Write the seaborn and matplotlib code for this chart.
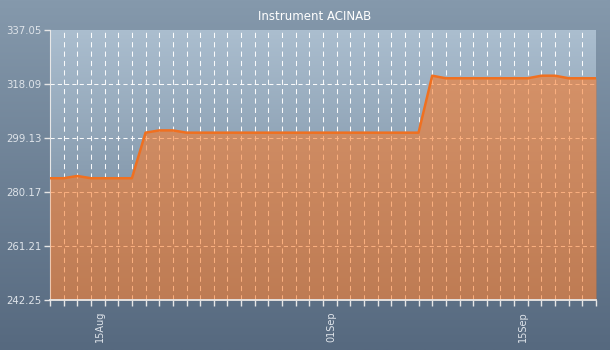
import numpy as np
import pandas as pd
import matplotlib
matplotlib.use("Agg")
import matplotlib.pyplot as plt
import matplotlib.dates as mdates
from matplotlib.ticker import FixedLocator, FormatStrFormatter
from matplotlib.colors import LinearSegmentedColormap
import seaborn as sns

title = "Instrument ACINAB"
start_date = "2014-08-11"
values = [285.0, 285.0, 285.8, 285.0, 285.0, 285.0, 285.0,
          301.0, 301.8, 301.8, 301.0, 301.0, 301.0, 301.0, 301.0,
          301.0, 301.0, 301.0, 301.0, 301.0, 301.0, 301.0, 301.0,
          301.0, 301.0, 301.0, 301.0, 301.0,
          321.0, 320.1, 320.1, 320.1, 320.1, 320.1, 320.1, 320.1,
          321.0, 321.0, 320.1, 320.1, 320.1]
yticks = [242.25, 261.21, 280.17, 299.13, 318.09, 337.05]
major_dates = ["2014-08-15", "2014-09-01", "2014-09-15"]

dates = pd.date_range(start_date, periods=len(values), freq="D")
df = pd.DataFrame({"date": dates, "value": values})

sns.set_style("white")
plt.rcParams["font.family"] = ["DejaVu Sans"]

fig = plt.figure(figsize=(6.1, 3.5), dpi=100)

# figure background gradient
bg = fig.add_axes([0, 0, 1, 1], zorder=-10)
bg_cmap = LinearSegmentedColormap.from_list("bg", ["#8599ac", "#56697f"])
bg.imshow(np.linspace(0, 1, 256).reshape(-1, 1), aspect="auto", cmap=bg_cmap,
          extent=[0, 1, 0, 1], origin="upper")
bg.axis("off")

ax = fig.add_axes([50 / 610, 1 - 300 / 350, 546 / 610, 270 / 350])
ax.set_facecolor("none")

x0 = mdates.date2num(dates[0])
x1 = mdates.date2num(dates[-1])
ymin, ymax = yticks[0], yticks[-1]

pa_cmap = LinearSegmentedColormap.from_list("pa", ["#abbecf", "#6b8095"])
ax.imshow(np.linspace(0, 1, 256).reshape(-1, 1), aspect="auto", cmap=pa_cmap,
          extent=[x0, x1, ymin, ymax], origin="upper", zorder=0)

# grid
for d in dates[1:-1]:
    ax.axvline(mdates.date2num(d), color="white", lw=0.75, ls=(0, (5, 4)), alpha=0.95, zorder=1)
for y in yticks[1:-1]:
    ax.axhline(y, color="white", lw=0.75, ls=(0, (4, 3)), alpha=0.95, zorder=1)

ax.fill_between(df["date"], df["value"], ymin, color="#fb7925", alpha=0.58, lw=0, zorder=2)
sns.lineplot(data=df, x="date", y="value", ax=ax, color="#f07020", lw=1.8, zorder=3)

ax.set_xlim(x0, x1)
ax.set_ylim(ymin, ymax)
ax.set_xlabel("")
ax.set_ylabel("")

ax.yaxis.set_major_locator(FixedLocator(yticks))
ax.yaxis.set_major_formatter(FormatStrFormatter("%.2f"))
ax.xaxis.set_major_locator(FixedLocator([mdates.date2num(pd.Timestamp(d)) for d in major_dates]))
ax.xaxis.set_major_formatter(mdates.DateFormatter("%d%b"))
ax.xaxis.set_minor_locator(mdates.DayLocator())

ax.tick_params(axis="x", which="both", direction="out", length=4, width=1,
               color="#e6e6e6", labelcolor="#dfe4ea", labelsize=7, pad=4, bottom=True)
ax.tick_params(axis="y", which="both", direction="out", length=4, width=1,
               color="#e6e6e6", labelcolor="#dfe4ea", labelsize=7.3, pad=2, left=True)
for lbl in ax.get_xticklabels():
    lbl.set_rotation(90)
    lbl.set_ha("right")
    lbl.set_va("top")

for side in ["top", "right"]:
    ax.spines[side].set_visible(False)
ax.spines["left"].set_color("#e8e8e8")
ax.spines["left"].set_zorder(1.5)
ax.spines["bottom"].set_color("#e8e8e8")
ax.spines["bottom"].set_linewidth(1.3)
ax.spines["bottom"].set_zorder(4)

fig.text(315 / 610, 1 - 17 / 350, title, ha="center", va="center", color="white", fontsize=8.5)

fig.savefig("out.png", dpi=100)
